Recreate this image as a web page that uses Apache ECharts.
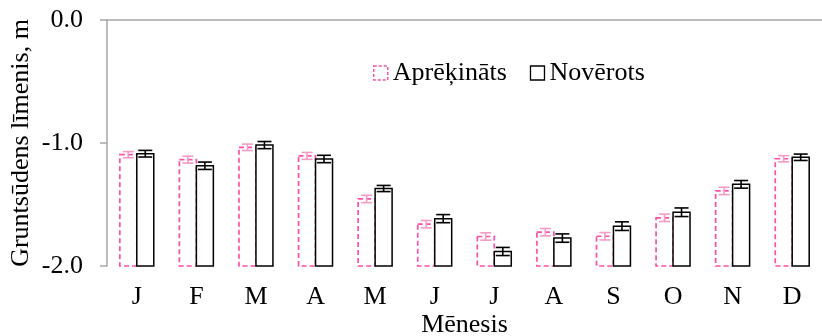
<!DOCTYPE html>
<html><head><meta charset="utf-8">
<script src="https://cdn.jsdelivr.net/npm/echarts@6/dist/echarts.min.js"></script>
<style>html,body{margin:0;padding:0;background:#fff}#c{width:822px;height:336px}</style>
</head><body><div id="c"></div>
<script>
const months = ['J','F','M','A','M','J','J','A','S','O','N','D'];
const calcValues = [-1.095,-1.135,-1.035,-1.105,-1.455,-1.66,-1.76,-1.725,-1.758,-1.608,-1.39,-1.128];
const calcErr    = [0.025,0.028,0.026,0.028,0.03,0.03,0.03,0.03,0.03,0.03,0.03,0.025];
const obsValues  = [-1.087,-1.185,-1.017,-1.13,-1.37,-1.615,-1.882,-1.773,-1.676,-1.563,-1.336,-1.116];
const obsErr     = [0.027,0.03,0.029,0.03,0.025,0.033,0.033,0.034,0.035,0.035,0.031,0.026];
const yTicks = [-2, -1, 0];
const baseValue = -2;

const PINK = '#ff4fa8', PINK_ERR = '#f59cc6', BLACK = '#000';
const FONT = '"Liberation Serif", "Times New Roman", serif';
const FS = 26;

function makeSeries(name, values, errs, side, stroke, dashed, errColor, capW) {
  return {
    name, type: 'custom',
    data: values.map((v, i) => [i, v, errs[i]]),
    renderItem: function (params, api) {
      const i = api.value(0), v = api.value(1), e = api.value(2);
      const band = api.size([1, 0])[0];
      const bw = band * 0.285;
      const top = api.coord([i, v]);
      const bot = api.coord([i, baseValue]);
      const cx = top[0] + side * bw / 2;
      const x0 = cx - bw / 2;
      const hi = api.coord([i, v + e])[1], lo = api.coord([i, v - e])[1];
      const children = [{
        type: 'rect',
        shape: { x: x0, y: top[1], width: bw, height: bot[1] - top[1] },
        style: { fill: '#fff', stroke, lineWidth: dashed ? 1.7 : 1.5, lineDash: dashed ? [5, 3] : null }
      }];
      const ls = { stroke: errColor, lineWidth: 1.6 };
      children.push({ type: 'line', shape: { x1: cx, y1: hi, x2: cx, y2: lo }, style: ls });
      children.push({ type: 'line', shape: { x1: cx - capW / 2, y1: hi, x2: cx + capW / 2, y2: hi }, style: ls });
      children.push({ type: 'line', shape: { x1: cx - capW / 2, y1: lo, x2: cx + capW / 2, y2: lo }, style: ls });
      return { type: 'group', children };
    },
    z: side > 0 ? 3 : 2
  };
}

const chart = echarts.init(document.getElementById('c'), null, { renderer: 'canvas' });
chart.setOption({
  animation: false,
  backgroundColor: '#fff',
  textStyle: { fontFamily: FONT },
  grid: { left: 107, right: 0, top: 20, bottom: 70, containLabel: false, outerBoundsMode: 'none' },
  legend: {
    left: 368, top: 55, itemWidth: 14, itemHeight: 14, itemGap: 23,
    textStyle: { fontFamily: FONT, fontSize: FS, color: '#000' },
    data: [
      { name: 'Aprēķināts', icon: 'rect', itemStyle: { color: '#fff', borderColor: PINK, borderWidth: 1.5, borderType: [3, 2] } },
      { name: 'Novērots', icon: 'rect', itemStyle: { color: '#fff', borderColor: BLACK, borderWidth: 1.3 } }
    ]
  },
  xAxis: {
    type: 'category', data: months,
    name: 'Mēnesis', nameLocation: 'middle', nameGap: 46, nameMoveOverlap: false,
    nameTextStyle: { fontFamily: FONT, fontSize: FS, color: '#000' },
    axisLine: { lineStyle: { color: '#a6a6a6', width: 1.5 } },
    axisTick: { length: 7, lineStyle: { color: '#a6a6a6', width: 1.5 } },
    axisLabel: { fontFamily: FONT, fontSize: FS, color: '#000', margin: 18 }
  },
  yAxis: {
    type: 'value', min: yTicks[0], max: yTicks[yTicks.length - 1], interval: 1,
    name: 'Gruntsūdens līmenis, m', nameLocation: 'middle', nameGap: 73, nameRotate: 90, nameMoveOverlap: false,
    nameTextStyle: { fontFamily: FONT, fontSize: FS, color: '#000' },
    axisLine: { show: true, lineStyle: { color: '#a6a6a6', width: 1.5 } },
    axisTick: { show: true, length: 7, lineStyle: { color: '#a6a6a6', width: 1.5 } },
    splitLine: { show: false },
    axisLabel: { fontFamily: FONT, fontSize: FS, color: '#000', margin: 24, formatter: v => v.toFixed(1) }
  },
  series: [
    makeSeries('Aprēķināts', calcValues, calcErr, -1, PINK, true, PINK_ERR, 11),
    makeSeries('Novērots', obsValues, obsErr, 1, BLACK, false, BLACK, 14)
  ]
});
</script></body></html>
